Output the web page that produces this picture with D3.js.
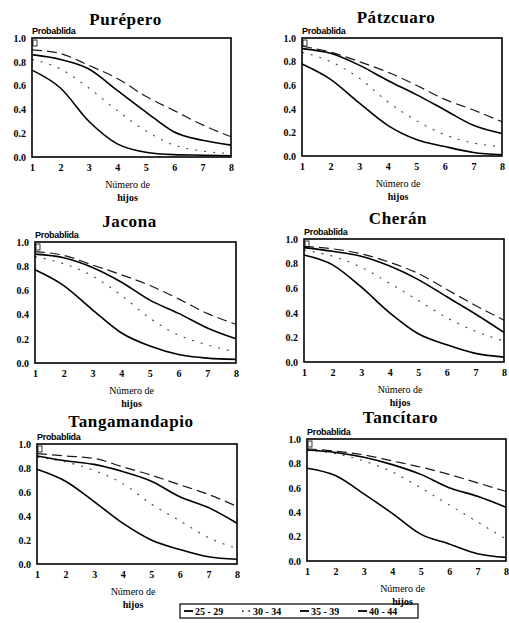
<!DOCTYPE html>
<html lang="es">
<head>
<meta charset="UTF-8">
<title>Probabilidad por número de hijos</title>
<script src="https://d3js.org/d3.v7.min.js"></script>
<style>
  body { margin: 0; background: #fff; }
  .title { font-family: "Liberation Serif", "DejaVu Serif", "Times New Roman", serif; font-weight: bold; font-size: 17px; letter-spacing: 0.6px; }
  .tick text { font-family: "Liberation Serif", "DejaVu Serif", "Times New Roman", serif; font-weight: bold; font-size: 10px; }
  .ylab { font-family: "Liberation Sans", Arial, sans-serif; font-weight: bold; font-size: 9px; letter-spacing: -0.3px; }
  .xlab { font-family: "Liberation Serif", "DejaVu Serif", "Times New Roman", serif; font-size: 10px; }
  .legend text { font-family: "Liberation Serif", "DejaVu Serif", "Times New Roman", serif; font-weight: bold; font-size: 10px; }
</style>
</head>
<body>
<div id="chart"></div>
<script>
const hijos = [1, 2, 3, 4, 5, 6, 7, 8];
const grupos = ["25 - 29", "30 - 34", "35 - 39", "40 - 44"];
const yTicks = [0, 0.2, 0.4, 0.6, 0.8, 1.0];

// probabilities per town, one array per age group (same order as grupos)
const purepero = [
  [0.73, 0.58, 0.30, 0.11, 0.04, 0.02, 0.015, 0.01],
  [0.82, 0.74, 0.58, 0.39, 0.22, 0.10, 0.05, 0.03],
  [0.86, 0.82, 0.74, 0.56, 0.38, 0.21, 0.14, 0.10],
  [0.90, 0.87, 0.77, 0.66, 0.51, 0.39, 0.27, 0.17]
];
const patzcuaro = [
  [0.78, 0.65, 0.45, 0.26, 0.14, 0.08, 0.03, 0.01],
  [0.88, 0.80, 0.66, 0.46, 0.30, 0.18, 0.11, 0.08],
  [0.91, 0.87, 0.77, 0.64, 0.52, 0.39, 0.26, 0.19],
  [0.93, 0.88, 0.80, 0.71, 0.60, 0.48, 0.39, 0.29]
];
const jacona = [
  [0.77, 0.64, 0.44, 0.25, 0.14, 0.07, 0.04, 0.03],
  [0.88, 0.82, 0.72, 0.56, 0.37, 0.23, 0.15, 0.09],
  [0.90, 0.87, 0.79, 0.67, 0.52, 0.41, 0.29, 0.20],
  [0.92, 0.89, 0.81, 0.73, 0.64, 0.53, 0.41, 0.32]
];
const cheran = [
  [0.87, 0.79, 0.61, 0.40, 0.23, 0.14, 0.07, 0.04],
  [0.91, 0.86, 0.77, 0.64, 0.50, 0.36, 0.25, 0.17],
  [0.93, 0.90, 0.86, 0.78, 0.67, 0.53, 0.39, 0.24],
  [0.94, 0.92, 0.88, 0.81, 0.72, 0.59, 0.46, 0.34]
];
const tangamandapio = [
  [0.79, 0.69, 0.52, 0.34, 0.20, 0.12, 0.06, 0.04],
  [0.89, 0.85, 0.78, 0.67, 0.50, 0.36, 0.22, 0.13],
  [0.90, 0.86, 0.83, 0.77, 0.69, 0.56, 0.47, 0.34],
  [0.92, 0.90, 0.88, 0.81, 0.74, 0.66, 0.58, 0.48]
];
const tancitaro = [
  [0.76, 0.70, 0.55, 0.39, 0.22, 0.14, 0.06, 0.03],
  [0.91, 0.88, 0.82, 0.73, 0.60, 0.46, 0.32, 0.18],
  [0.91, 0.89, 0.85, 0.79, 0.71, 0.60, 0.53, 0.44],
  [0.92, 0.90, 0.87, 0.82, 0.77, 0.71, 0.64, 0.57]
];

const towns = ["Purépero", "Pátzcuaro", "Jacona", "Cherán", "Tangamandapio", "Tancítaro"];
const townData = [purepero, patzcuaro, jacona, cheran, tangamandapio, tancitaro];

// where each small plot sits on the page
const frames = [
  { l: 32, t: 38, w: 199, h: 119, ty: 25 },
  { l: 302, t: 38, w: 200, h: 118, ty: 23 },
  { l: 35, t: 242, w: 201, h: 121, ty: 227 },
  { l: 304, t: 239, w: 200, h: 123, ty: 224 },
  { l: 37, t: 444, w: 200, h: 120, ty: 427 },
  { l: 307, t: 439, w: 199, h: 122, ty: 423 }
];

const styles = [
  { dash: null, width: 1.6, op: 1 },
  { dash: "2,7", width: 1.1, op: 0.75 },
  { dash: null, width: 1.6, op: 1 },
  { dash: "10,5", width: 1.2, op: 0.9 }
];

const svg = d3.select("#chart").append("svg")
  .attr("width", 509).attr("height", 623);

towns.forEach((name, i) => {
  const f = frames[i];
  const g = svg.append("g").attr("transform", `translate(${f.l},${f.t})`);
  const x = d3.scaleLinear().domain([1, 8]).range([0, f.w]);
  const y = d3.scaleLinear().domain([0, 1]).range([f.h, 0]);

  svg.append("text").attr("class", "title")
    .attr("x", f.l + f.w / 2 - 6).attr("y", f.ty)
    .attr("text-anchor", "middle").text(name);

  g.append("text").attr("class", "ylab").attr("x", 0).attr("y", -4).text("Probablida");

  const xa = g.append("g").attr("transform", `translate(0,${f.h})`)
    .call(d3.axisBottom(x).tickValues(hijos).tickFormat(d3.format("d")).tickSize(0).tickPadding(7));
  xa.select(".domain").remove();

  const ya = g.append("g")
    .call(d3.axisLeft(y).tickValues(yTicks).tickFormat(d3.format(".1f")).tickSize(0).tickPadding(6));
  ya.select(".domain").remove();
  svg.selectAll(".tick text").attr("font-family", null).attr("font-size", null);

  const line = d3.line().x((d, j) => x(hijos[j])).y(d => y(d)).curve(d3.curveMonotoneX);
  townData[i].forEach((serie, k) => {
    g.append("path").datum(serie)
      .attr("d", line)
      .attr("fill", "none")
      .attr("stroke", "#000")
      .attr("stroke-width", styles[k].width)
      .attr("stroke-opacity", styles[k].op)
      .attr("stroke-dasharray", styles[k].dash);
  });

  g.append("rect").attr("width", f.w).attr("height", f.h)
    .attr("fill", "none").attr("stroke", "#000").attr("stroke-width", 1.6);
  g.append("rect").attr("x", 1).attr("y", 2).attr("width", 4).attr("height", 6)
    .attr("fill", "none").attr("stroke", "#000").attr("stroke-width", 0.8);

  const xl = g.append("text").attr("class", "xlab").attr("text-anchor", "middle")
    .attr("x", f.w / 2 - 4).attr("y", f.h + 31);
  xl.append("tspan").text("Número de");
  xl.append("tspan").attr("x", f.w / 2 - 4).attr("dy", 13).style("font-weight", "bold").text("hijos");
});

// legend
const legend = svg.append("g").attr("class", "legend").attr("transform", "translate(180,604)");
legend.append("rect").attr("width", 238).attr("height", 14)
  .attr("fill", "none").attr("stroke", "#000").attr("stroke-width", 1.2);
const lx = d3.scalePoint().domain(grupos).range([4, 178]);
const items = legend.selectAll("g.item").data(grupos).enter().append("g")
  .attr("class", "item").attr("transform", d => `translate(${lx(d)},0)`);
items.append("line").attr("x1", 0).attr("x2", 9).attr("y1", 7).attr("y2", 7)
  .attr("stroke", "#000").attr("stroke-width", (d, k) => k === 1 ? 1.5 : 1.8)
  .attr("stroke-dasharray", (d, k) => k === 1 ? "1.5,5" : null);
items.append("text").attr("x", 11).attr("y", 11).text(d => d);
</script>
</body>
</html>
